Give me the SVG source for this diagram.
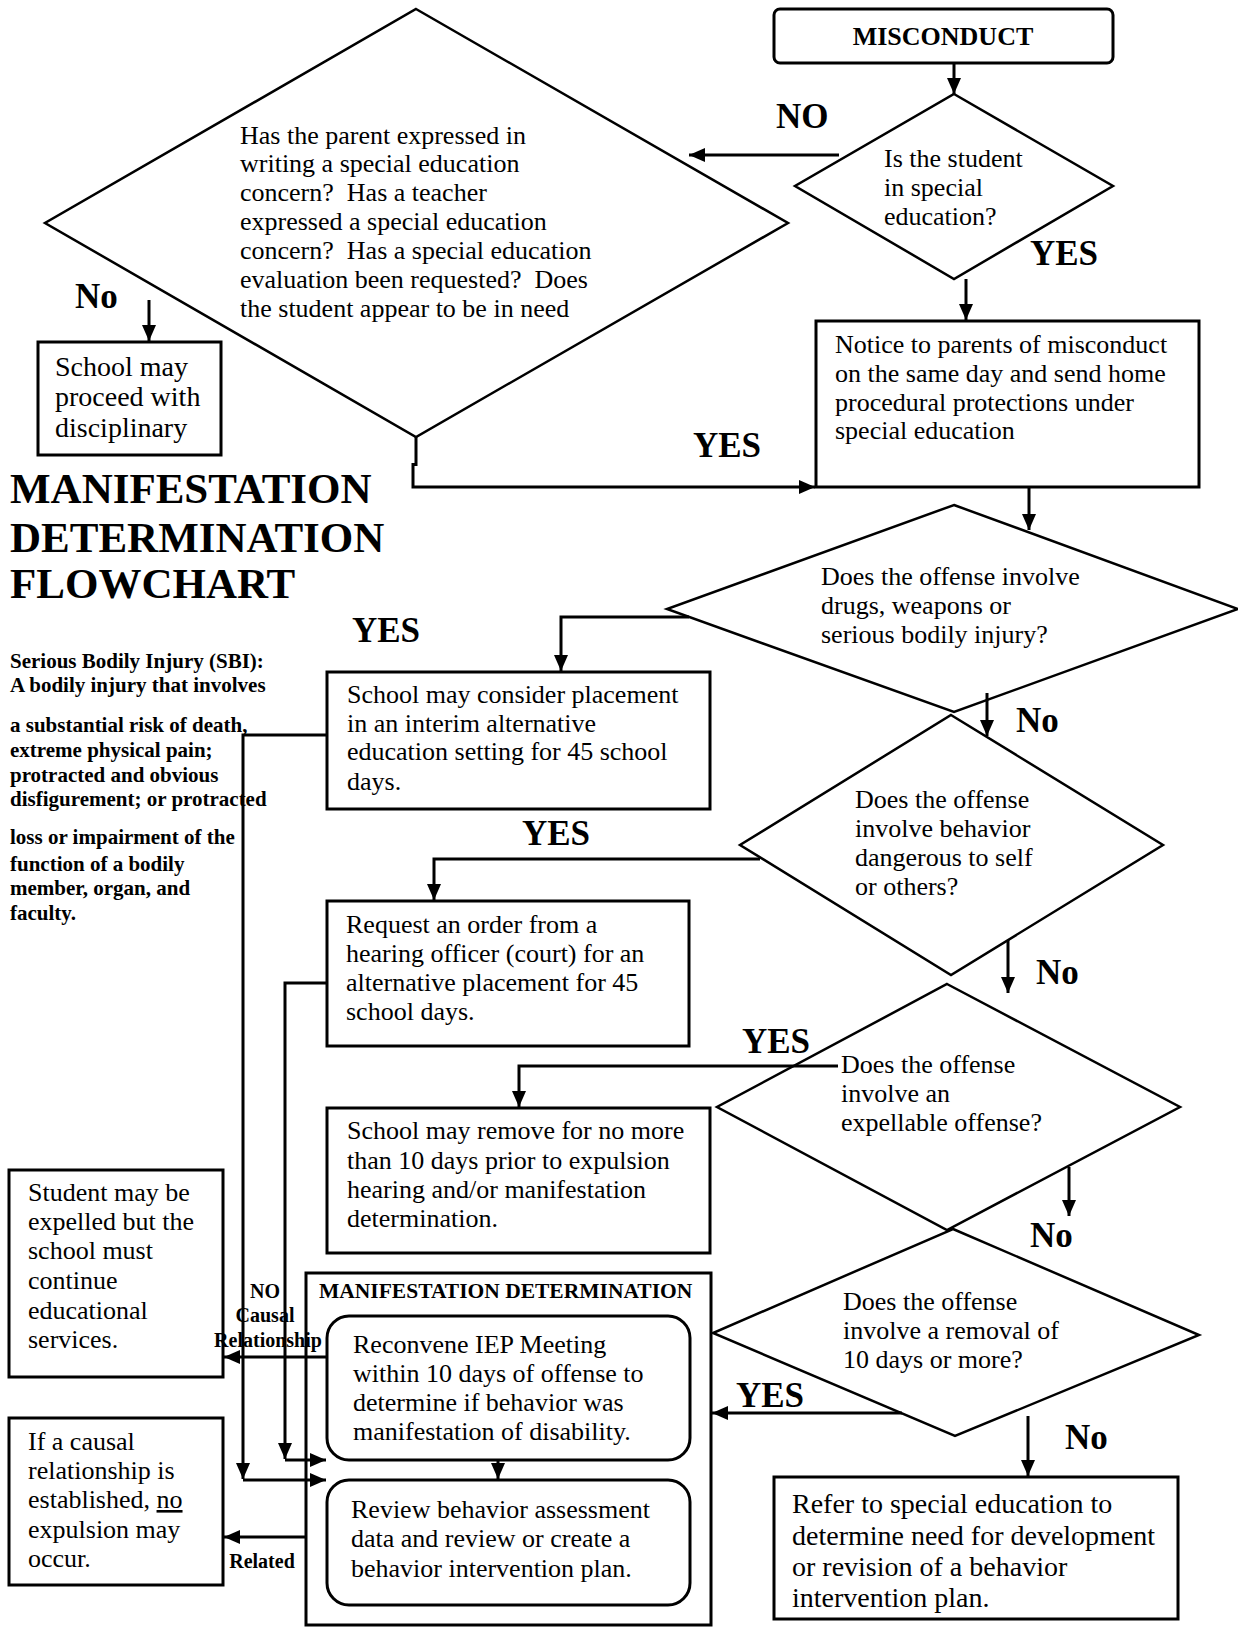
<svg xmlns="http://www.w3.org/2000/svg" width="1238" height="1627" viewBox="0 0 1238 1627">
<defs>
<style>
.bx{fill:#fff;stroke:#000;stroke-width:3}
.dm{fill:none;stroke:#000;stroke-width:2.5}
.ln{fill:none;stroke:#000;stroke-width:3}
.ar{marker-end:url(#ah)}
text{font-family:"Liberation Serif","Times New Roman",serif;fill:#000}
.t{font-size:26px}
.tw{font-size:28px}
.lb{font-size:35px;font-weight:bold}
.sm{font-size:20px;font-weight:bold}
.sb{font-size:21px;font-weight:bold}
.ti{font-size:43px;font-weight:bold}
.pre{white-space:pre}
</style>
<marker id="ah" viewBox="0 0 16 14" refX="16" refY="7" markerWidth="16" markerHeight="14" markerUnits="userSpaceOnUse" orient="auto"><path d="M0,0 L16,7 L0,14 z" fill="#000"/></marker>
</defs>
<rect width="1238" height="1627" fill="#fff"/>

<g id="title">
<text class="ti" x="10" y="503">MANIFESTATION</text>
<text class="ti" x="10" y="552">DETERMINATION</text>
<text class="ti" x="10" y="598">FLOWCHART</text>
</g>
<g id="sbi-note">
<text class="sb" x="10" y="668">Serious Bodily Injury (SBI):</text>
<text class="sb" x="10" y="692">A bodily injury that involves</text>
<text class="sb" x="10" y="732">a substantial risk of death,</text>
<text class="sb" x="10" y="757">extreme physical pain;</text>
<text class="sb" x="10" y="782">protracted and obvious</text>
<text class="sb" x="10" y="806">disfigurement; or protracted</text>
<text class="sb" x="10" y="844">loss or impairment of the</text>
<text class="sb" x="10" y="871">function of a bodily</text>
<text class="sb" x="10" y="895">member, organ, and</text>
<text class="sb" x="10" y="920">faculty.</text>
</g>

<g id="n-misconduct">
<rect class="bx" x="774" y="9" width="339" height="54" rx="6"/>
<text x="943" y="45" text-anchor="middle" font-size="26" font-weight="bold">MISCONDUCT</text>
</g>
<g id="n-special-ed">
<polygon class="dm" points="954,94 1113,186 954,279 795,186"/>
<text class="t" x="884" y="167">Is the student</text>
<text class="t" x="884" y="196">in special</text>
<text class="t" x="884" y="225">education?</text>
</g>
<g id="n-concern">
<polygon class="dm" points="416,9 788,223 416,437 45,223"/>
<text class="t pre" x="240" y="144">Has the parent expressed in</text>
<text class="t pre" x="240" y="172">writing a special education</text>
<text class="t pre" x="240" y="201">concern?  Has a teacher</text>
<text class="t pre" x="240" y="230">expressed a special education</text>
<text class="t pre" x="240" y="259">concern?  Has a special education</text>
<text class="t pre" x="240" y="288">evaluation been requested?  Does</text>
<text class="t pre" x="240" y="317">the student appear to be in need</text>
</g>
<g id="n-proceed">
<rect class="bx" x="38" y="342" width="183" height="113"/>
<text x="55" y="376" font-size="28">School may</text>
<text x="55" y="406" font-size="28">proceed with</text>
<text x="55" y="437" font-size="28">disciplinary</text>
</g>
<g id="n-notice">
<rect class="bx" x="816" y="321" width="383" height="166"/>
<text class="t" x="835" y="353">Notice to parents of misconduct</text>
<text class="t" x="835" y="382">on the same day and send home</text>
<text class="t" x="835" y="411">procedural protections under</text>
<text class="t" x="835" y="439">special education</text>
</g>
<g id="n-drugs">
<polygon class="dm" points="954,505 1238,609 954,712 667,609"/>
<text class="t" x="821" y="585">Does the offense involve</text>
<text class="t" x="821" y="614">drugs, weapons or</text>
<text class="t" x="821" y="643">serious bodily injury?</text>
</g>
<g id="n-interim">
<rect class="bx" x="327" y="672" width="383" height="137"/>
<text class="t" x="347" y="703">School may consider placement</text>
<text class="t" x="347" y="732">in an interim alternative</text>
<text class="t" x="347" y="760">education setting for 45 school</text>
<text class="t" x="347" y="790">days.</text>
</g>
<g id="n-dangerous">
<polygon class="dm" points="951,715 1163,845 951,975 740,845"/>
<text class="t" x="855" y="808">Does the offense</text>
<text class="t" x="855" y="837">involve behavior</text>
<text class="t" x="855" y="866">dangerous to self</text>
<text class="t" x="855" y="895">or others?</text>
</g>
<g id="n-request">
<rect class="bx" x="327" y="901" width="362" height="145"/>
<text class="t" x="346" y="933">Request an order from a</text>
<text class="t" x="346" y="962">hearing officer (court) for an</text>
<text class="t" x="346" y="991">alternative placement for 45</text>
<text class="t" x="346" y="1020">school days.</text>
</g>
<g id="n-expellable">
<polygon class="dm" points="947,984 1180,1107 947,1230 717,1107"/>
<text class="t" x="841" y="1073">Does the offense</text>
<text class="t" x="841" y="1102">involve an</text>
<text class="t" x="841" y="1131">expellable offense?</text>
</g>
<g id="n-remove">
<rect class="bx" x="327" y="1108" width="383" height="145"/>
<text class="t" x="347" y="1139">School may remove for no more</text>
<text class="t" x="347" y="1169">than 10 days prior to expulsion</text>
<text class="t" x="347" y="1198">hearing and/or manifestation</text>
<text class="t" x="347" y="1227">determination.</text>
</g>
<g id="n-removal10">
<polygon class="dm" points="953,1229 1199,1335 955,1436 713,1333"/>
<text class="t" x="843" y="1310">Does the offense</text>
<text class="t" x="843" y="1339">involve a removal of</text>
<text class="t" x="843" y="1368">10 days or more?</text>
</g>
<g id="n-refer">
<rect class="bx" x="774" y="1477" width="404" height="142"/>
<text class="tw" x="792" y="1513">Refer to special education to</text>
<text class="tw" x="792" y="1545">determine need for development</text>
<text class="tw" x="792" y="1576">or revision of a behavior</text>
<text class="tw" x="792" y="1607">intervention plan.</text>
</g>
<g id="n-md">
<rect class="bx" x="306" y="1273" width="405" height="352"/>
<text x="319" y="1298" font-size="21.5" font-weight="bold">MANIFESTATION DETERMINATION</text>
</g>
<g id="n-reconvene">
<rect class="bx" x="327" y="1316" width="363" height="144" rx="22"/>
<text class="t" x="353" y="1353">Reconvene IEP Meeting</text>
<text class="t" x="353" y="1382">within 10 days of offense to</text>
<text class="t" x="353" y="1411">determine if behavior was</text>
<text class="t" x="353" y="1440">manifestation of disability.</text>
</g>
<g id="n-review">
<rect class="bx" x="327" y="1480" width="363" height="125" rx="22"/>
<text class="t" x="351" y="1518">Review behavior assessment</text>
<text class="t" x="351" y="1547">data and review or create a</text>
<text class="t" x="351" y="1577">behavior intervention plan.</text>
</g>
<g id="n-expelled">
<rect class="bx" x="9" y="1170" width="214" height="207"/>
<text class="t" x="28" y="1201">Student may be</text>
<text class="t" x="28" y="1230">expelled but the</text>
<text class="t" x="28" y="1259">school must</text>
<text class="t" x="28" y="1289">continue</text>
<text class="t" x="28" y="1319">educational</text>
<text class="t" x="28" y="1348">services.</text>
</g>
<g id="n-no-expulsion">
<rect class="bx" x="9" y="1418" width="214" height="167"/>
<text class="t" x="28" y="1450">If a causal</text>
<text class="t" x="28" y="1479">relationship is</text>
<text class="t" x="28" y="1508">established, <tspan text-decoration="underline">no</tspan></text>
<text class="t" x="28" y="1538">expulsion may</text>
<text class="t" x="28" y="1567">occur.</text>
</g>

<g id="connectors">
<path class="ln ar" d="M954,63 V94"/>
<path class="ln ar" d="M839,155 H689"/>
<path class="ln ar" d="M966,279 V320"/>
<path class="ln ar" d="M149,300 V341"/>
<path class="ln ar" d="M416,437 V466 M413,463 V487 H815"/>
<path class="ln ar" d="M1029,487 V530"/>
<path class="ln ar" d="M689,617 H561 V671"/>
<path class="ln ar" d="M987,693 V736"/>
<path class="ln ar" d="M760,859 H434 V900"/>
<path class="ln ar" d="M1008,940 V993"/>
<path class="ln ar" d="M838,1066 H519 V1107"/>
<path class="ln ar" d="M1069,1167 V1216"/>
<path class="ln ar" d="M902,1413 H712"/>
<path class="ln ar" d="M1028,1416 V1476"/>
<path class="ln ar" d="M327,735 H243 V1479"/>
<path class="ln ar" d="M243,1480 H326"/>
<path class="ln ar" d="M327,983 H285 V1459"/>
<path class="ln ar" d="M285,1460 H326"/>
<path class="ln ar" d="M327,1357 H224"/>
<path class="ln ar" d="M306,1537 H224"/>
<path class="ln ar" d="M498,1460 V1479"/>
<text class="lb" x="776" y="128">NO</text>
<text class="lb" x="1030" y="265">YES</text>
<text class="lb" x="75" y="308" font-size="34">No</text>
<text class="lb" x="693" y="457">YES</text>
<text class="lb" x="352" y="642">YES</text>
<text class="lb" x="1016" y="732" font-size="34">No</text>
<text class="lb" x="522" y="845">YES</text>
<text class="lb" x="1036" y="984" font-size="34">No</text>
<text class="lb" x="742" y="1053">YES</text>
<text class="lb" x="1030" y="1247" font-size="34">No</text>
<text class="lb" x="736" y="1407">YES</text>
<text class="lb" x="1065" y="1449" font-size="34">No</text>
<text class="sm" x="265" y="1298" text-anchor="middle">NO</text>
<text class="sm" x="265" y="1322" text-anchor="middle">Causal</text>
<text class="sm" x="268" y="1347" text-anchor="middle">Relationship</text>
<text class="sm" x="262" y="1568" text-anchor="middle">Related</text>
</g>
</svg>
